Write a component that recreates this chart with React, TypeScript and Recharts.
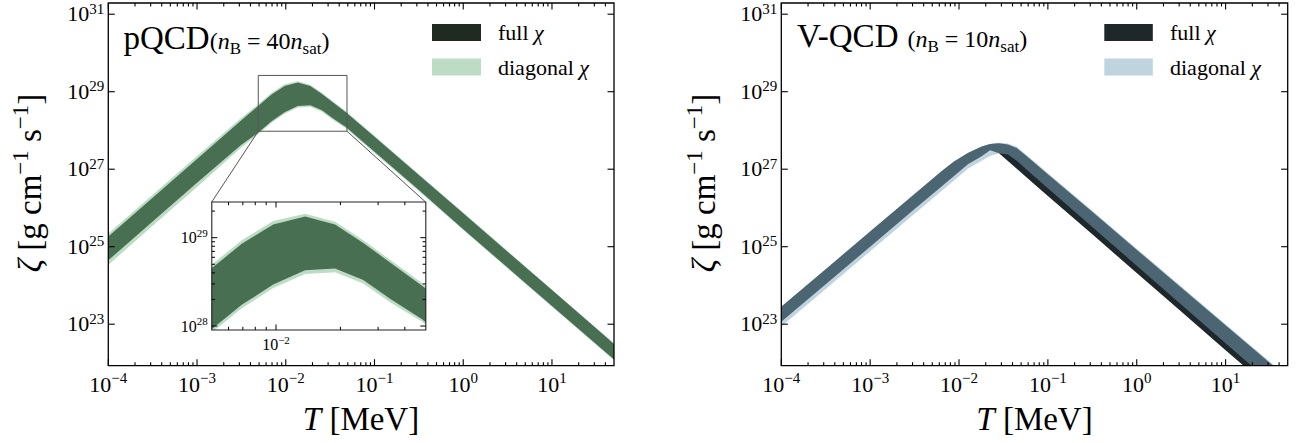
import React from 'react';
import { ComposedChart, Area, XAxis, YAxis, ReferenceArea, ReferenceLine } from 'recharts';

const FONT = '"Liberation Serif", "DejaVu Serif", serif';

// ---------- data (log10 values) ----------
// pQCD panel, log10(T / MeV)
const pqcdLogT = [-4, -3.5, -3, -2.5, -2.308, -2.16, -2.013, -1.864, -1.724, -1.592, -1.467, -1.319, -1, -0.5, 0, 0.5, 1, 1.5, 1.699];
const pqcdFullHi = [25.26, 26.26, 27.26, 28.26, 28.64, 28.93, 29.15, 29.24, 29.15, 28.94, 28.72, 28.46, 27.84, 26.85, 25.86, 24.87, 23.88, 22.89, 22.49];
const pqcdFullLo = [24.65, 25.65, 26.65, 27.63, 27.95, 28.24, 28.47, 28.63, 28.65, 28.52, 28.31, 28.08, 27.45, 26.46, 25.45, 24.46, 23.47, 22.48, 22.09];
const pqcdDiagHi = [25.34, 26.34, 27.34, 28.33, 28.68, 28.97, 29.19, 29.27, 29.18, 28.97, 28.75, 28.49, 27.86, 26.87, 25.88, 24.89, 23.89, 22.9, 22.51];
const pqcdDiagLo = [24.53, 25.54, 26.54, 27.56, 27.91, 28.2, 28.43, 28.59, 28.61, 28.48, 28.27, 28.05, 27.42, 26.43, 25.43, 24.44, 23.45, 22.46, 22.07];

// V-QCD panel, log10(T / MeV)
const vqcdLogT = [-4, -3.5, -3, -2.5, -2.2, -2.06, -1.9, -1.75, -1.65, -1.55, -1.45, -1.35, -1.2, -1, -0.5, 0, 0.5, 1, 1.5, 1.699];
const vqcdFullHi = [23.45, 24.42, 25.39, 26.36, 26.94, 27.19, 27.42, 27.58, 27.65, 27.67, 27.64, 27.55, 27.26, 26.87, 25.9, 24.92, 23.95, 22.97, 22.0, 21.61];
const vqcdFullLo = [23.06, 24.03, 25.0, 25.97, 26.55, 26.82, 27.13, 27.33, 27.49, 27.41, 27.21, 27.01, 26.71, 26.31, 25.32, 24.32, 23.33, 22.33, 21.34, 20.94];
const vqcdDiagHi = [23.45, 24.42, 25.39, 26.36, 26.94, 27.19, 27.42, 27.58, 27.65, 27.68, 27.66, 27.58, 27.29, 26.9, 25.93, 24.95, 23.98, 23.0, 22.03, 21.64];
const vqcdDiagLo = [22.94, 23.91, 24.88, 25.85, 26.43, 26.7, 27.01, 27.21, 27.34, 27.41, 27.38, 27.22, 26.91, 26.51, 25.51, 24.51, 23.51, 22.51, 21.51, 21.11];

// ticks
const X_MAJOR = [1e-4, 1e-3, 1e-2, 1e-1, 1, 10];
const MINOR_MULT = [2, 3, 4, 5, 6, 7, 8, 9];
const Y_MAJOR = [1e23, 1e25, 1e27, 1e29, 1e31];
const INSET_X_MAJOR = [1e-2];
const INSET_X_MINOR = [6e-3, 7e-3, 8e-3, 9e-3, 2e-2, 3e-2, 4e-2];
const INSET_Y_MAJOR = [1e28, 1e29];
const INSET_Y_MINOR = [2e28, 3e28, 4e28, 5e28, 6e28, 7e28, 8e28, 9e28, 2e29];

const X_DOMAIN: [number, number] = [1e-4, 50];
const Y_DOMAIN: [number, number] = [Math.pow(10, 21.929), Math.pow(10, 31.289)];
const INSET_X_DOMAIN: [number, number] = [Math.pow(10, -2.3), Math.pow(10, -1.3)];
const INSET_Y_DOMAIN: [number, number] = [Math.pow(10, 27.955), Math.pow(10, 29.404)];
// zoom box on the main panel and inset corner positions (data coords of main panel)
const ZOOM_BOX = { x1: Math.pow(10, -2.31), x2: Math.pow(10, -1.31), y1: Math.pow(10, 27.98), y2: Math.pow(10, 29.42) };
const INSET_CORNERS = { xl: Math.pow(10, -2.834), xr: Math.pow(10, -0.4245), yt: Math.pow(10, 26.154) };

const p10 = (v: number) => Math.pow(10, v);
function buildRows(logT: number[], fLo: number[], fHi: number[], dLo: number[], dHi: number[]) {
  return logT.map((t, i) => ({
    T: p10(t),
    full: [p10(fLo[i]), p10(fHi[i])],
    diag: [p10(dLo[i]), p10(dHi[i])],
  }));
}
const pqcdRows = buildRows(pqcdLogT, pqcdFullLo, pqcdFullHi, pqcdDiagLo, pqcdDiagHi);
const vqcdRows = buildRows(vqcdLogT, vqcdFullLo, vqcdFullHi, vqcdDiagLo, vqcdDiagHi);

const xTicks: number[] = [];
X_MAJOR.forEach((m) => {
  xTicks.push(m);
  MINOR_MULT.forEach((k) => {
    const v = m * k;
    if (v < X_DOMAIN[1] * 0.999) xTicks.push(v);
  });
});

const isMajor = (v: number) => {
  const e = Math.log10(v);
  return Math.abs(e - Math.round(e)) < 1e-6;
};
const expLabel = (v: number) => {
  const e = Math.round(Math.log10(v));
  return e < 0 ? '\u2212' + String(-e) : String(e);
};

type Geo = { left: number; right: number; top: number; bottom: number };

const makeXTick = (g: Geo, opt: { major: number; minor: number; fs: number; sfs: number; labelY: number; sup: number; sw: number }) =>
  (props: any) => {
    const { x, payload } = props;
    const v = payload.value;
    const maj = isMajor(v);
    const len = maj ? opt.major : opt.minor;
    return (
      <g>
        <line x1={x} x2={x} y1={g.bottom} y2={g.bottom - len} stroke="#000" strokeWidth={opt.sw} />
        <line x1={x} x2={x} y1={g.top} y2={g.top + len} stroke="#000" strokeWidth={opt.sw} />
        {maj && (
          <text x={x} y={opt.labelY} textAnchor="middle" fontFamily={FONT} fontSize={opt.fs} fill="#000">
            10<tspan fontSize={opt.sfs} dy={-opt.sup}>{expLabel(v)}</tspan>
          </text>
        )}
      </g>
    );
  };

const makeYTick = (g: Geo, opt: { major: number; minor: number; fs: number; sfs: number; dx: number; base: number; sup: number; sw: number }) =>
  (props: any) => {
    const { y, payload } = props;
    const v = payload.value;
    const maj = isMajor(v);
    const len = maj ? opt.major : opt.minor;
    return (
      <g>
        <line x1={g.left} x2={g.left + len} y1={y} y2={y} stroke="#000" strokeWidth={opt.sw} />
        <line x1={g.right} x2={g.right - len} y1={y} y2={y} stroke="#000" strokeWidth={opt.sw} />
        {maj && (
          <text x={g.left - opt.dx} y={y + opt.base} textAnchor="end" fontFamily={FONT} fontSize={opt.fs} fill="#000">
            10<tspan fontSize={opt.sfs} dy={-opt.sup}>{expLabel(v)}</tspan>
          </text>
        )}
      </g>
    );
  };

type PanelProps = {
  rows: any[];
  left: number;
  width: number;
  geo: Geo;
  dark: string;
  light: string;
  zoomBox?: boolean;
};

const H = 443;
const AX = 1; // thickness reserved by each axis (must be > 0 for it to draw)

function Panel({ rows, left, width, geo, dark, light, zoomBox }: PanelProps) {
  const margin = { top: geo.top, left: geo.left - AX, right: width - geo.right, bottom: H - geo.bottom - AX };
  return (
    <div style={{ position: 'absolute', left, top: 0 }}>
      <ComposedChart width={width} height={H} data={rows} margin={margin}>
        <Area dataKey="full" type="linear" stroke="none" fill={dark} fillOpacity={1} isAnimationActive={false} />
        <Area dataKey="diag" type="linear" stroke="none" fill={light} fillOpacity={0.49} isAnimationActive={false} />
        {zoomBox && (
          <ReferenceArea x1={ZOOM_BOX.x1} x2={ZOOM_BOX.x2} y1={ZOOM_BOX.y1} y2={ZOOM_BOX.y2} fill="none" stroke="#555" strokeWidth={1} ifOverflow="visible" />
        )}
        {zoomBox && (
          <ReferenceLine segment={[{ x: ZOOM_BOX.x1, y: ZOOM_BOX.y1 }, { x: INSET_CORNERS.xl, y: INSET_CORNERS.yt }]} stroke="#555" strokeWidth={1} ifOverflow="visible" />
        )}
        {zoomBox && (
          <ReferenceLine segment={[{ x: ZOOM_BOX.x2, y: ZOOM_BOX.y1 }, { x: INSET_CORNERS.xr, y: INSET_CORNERS.yt }]} stroke="#555" strokeWidth={1} ifOverflow="visible" />
        )}
        <ReferenceArea x1={X_DOMAIN[0]} x2={X_DOMAIN[1]} y1={Y_DOMAIN[0]} y2={Y_DOMAIN[1]} fill="none" stroke="#000" strokeWidth={1.3} ifOverflow="visible" />
        <XAxis
          dataKey="T"
          type="number"
          scale="log"
          domain={X_DOMAIN}
          allowDataOverflow
          ticks={xTicks}
          interval={0}
          height={AX}
          axisLine={false}
          tickLine={false}
          tick={makeXTick(geo, { major: 6.5, minor: 3.5, fs: 22, sfs: 15, labelY: 391.7, sup: 9, sw: 1.1 })}
        />
        <YAxis
          type="number"
          scale="log"
          domain={Y_DOMAIN}
          allowDataOverflow
          ticks={Y_MAJOR}
          interval={0}
          width={AX}
          axisLine={false}
          tickLine={false}
          tick={makeYTick(geo, { major: 6.5, minor: 3.5, fs: 22, sfs: 15, dx: 4, base: 7, sup: 7.5, sw: 1.1 })}
        />
      </ComposedChart>
    </div>
  );
}

// inset geometry (page pixels)
const INSET_BOX = { left: 211.8, right: 425.8, top: 202, bottom: 330 };
const INSET_POS = { left: 150, top: 180, width: 300, height: 190 };

function Inset() {
  const g: Geo = {
    left: INSET_BOX.left - INSET_POS.left,
    right: INSET_BOX.right - INSET_POS.left,
    top: INSET_BOX.top - INSET_POS.top,
    bottom: INSET_BOX.bottom - INSET_POS.top,
  };
  const margin = { top: g.top, left: g.left - AX, right: INSET_POS.width - g.right, bottom: INSET_POS.height - g.bottom - AX };
  return (
    <>
      <div
        style={{
          position: 'absolute',
          left: INSET_BOX.left,
          top: INSET_BOX.top,
          width: INSET_BOX.right - INSET_BOX.left,
          height: INSET_BOX.bottom - INSET_BOX.top,
          background: '#fff',
        }}
      />
      <div style={{ position: 'absolute', left: INSET_POS.left, top: INSET_POS.top }}>
        <ComposedChart width={INSET_POS.width} height={INSET_POS.height} data={pqcdRows} margin={margin}>
          <Area dataKey="full" type="linear" stroke="none" fill="#1f2a20" fillOpacity={1} isAnimationActive={false} />
          <Area dataKey="diag" type="linear" stroke="none" fill="#77b887" fillOpacity={0.49} isAnimationActive={false} />
          <ReferenceArea x1={INSET_X_DOMAIN[0]} x2={INSET_X_DOMAIN[1]} y1={INSET_Y_DOMAIN[0]} y2={INSET_Y_DOMAIN[1]} fill="none" stroke="#222" strokeWidth={1.1} ifOverflow="visible" />
          <XAxis
            dataKey="T"
            type="number"
            scale="log"
            domain={INSET_X_DOMAIN}
            allowDataOverflow
            ticks={[...INSET_X_MAJOR, ...INSET_X_MINOR]}
            interval={0}
            height={AX}
            axisLine={false}
            tickLine={false}
            tick={makeXTick(g, { major: 5.5, minor: 3.2, fs: 16, sfs: 11, labelY: g.bottom + 20, sup: 6.5, sw: 1 })}
          />
          <YAxis
            type="number"
            scale="log"
            domain={INSET_Y_DOMAIN}
            allowDataOverflow
            ticks={[...INSET_Y_MAJOR, ...INSET_Y_MINOR]}
            interval={0}
            width={AX}
            axisLine={false}
            tickLine={false}
            tick={makeYTick(g, { major: 5.5, minor: 3.2, fs: 16, sfs: 11, dx: 4, base: 5.5, sup: 6.5, sw: 1 })}
          />
        </ComposedChart>
      </div>
    </>
  );
}

function Texts() {
  const sub = { fontSize: 17 };
  return (
    <svg width={1314} height={443} style={{ position: 'absolute', left: 0, top: 0, pointerEvents: 'none' }} fontFamily={FONT}>
      {/* left title */}
      <text x={123.5} y={48.5} fontSize={33} fill="#000">
        pQCD
        <tspan fontSize={24}>
          (<tspan fontStyle="italic">n</tspan>
          <tspan {...sub} dy={5}>B</tspan>
          <tspan dy={-5} dx={6}>=</tspan>
          <tspan dx={6}>40</tspan>
          <tspan fontStyle="italic">n</tspan>
          <tspan {...sub} dy={5}>sat</tspan>
          <tspan dy={-5}>)</tspan>
        </tspan>
      </text>
      {/* right title */}
      <text x={797} y={47} fontSize={33} fill="#000">
        V-QCD
        <tspan fontSize={24} dx={9}>
          (<tspan fontStyle="italic">n</tspan>
          <tspan {...sub} dy={5}>B</tspan>
          <tspan dy={-5} dx={6}>=</tspan>
          <tspan dx={6}>10</tspan>
          <tspan fontStyle="italic">n</tspan>
          <tspan {...sub} dy={5}>sat</tspan>
          <tspan dy={-5}>)</tspan>
        </tspan>
      </text>

      {/* legends */}
      <rect x={432} y={24} width={49} height={17} fill="#1f2a20" />
      <rect x={432} y={58.5} width={49} height={17} fill="#77b887" fillOpacity={0.49} />
      <text x={498} y={40} fontSize={22}>full <tspan fontStyle="italic">χ</tspan></text>
      <text x={498} y={75} fontSize={22}>diagonal <tspan fontStyle="italic">χ</tspan></text>

      <rect x={1104.3} y={24} width={48.5} height={17} fill="#1e272a" />
      <rect x={1104.3} y={58.5} width={48.5} height={17} fill="#7da8bd" fillOpacity={0.49} />
      <text x={1170} y={40} fontSize={22}>full <tspan fontStyle="italic">χ</tspan></text>
      <text x={1170} y={75} fontSize={22}>diagonal <tspan fontStyle="italic">χ</tspan></text>

      {/* axis labels */}
      <text x={361} y={430} textAnchor="middle" fontSize={33}>
        <tspan fontStyle="italic">T</tspan> [MeV]
      </text>
      <text x={1034.5} y={430} textAnchor="middle" fontSize={33}>
        <tspan fontStyle="italic">T</tspan> [MeV]
      </text>
      {[41, 715].map((bx) => (
        <text key={bx} transform={`translate(${bx},183) rotate(-90)`} textAnchor="middle" fontSize={33}>
          <tspan fontStyle="italic">ζ</tspan> [g cm<tspan fontSize={23} dy={-13}>−1</tspan>
          <tspan dy={13}> s</tspan>
          <tspan fontSize={23} dy={-13}>−1</tspan>
          <tspan dy={13}>]</tspan>
        </text>
      ))}
    </svg>
  );
}

export default function App() {
  return (
    <div style={{ position: 'absolute', left: 0, top: 0, width: 1314, height: 443, background: '#fff', overflow: 'hidden' }}>
      <Panel rows={pqcdRows} left={0} width={650} geo={{ left: 108.3, right: 614, top: 3, bottom: 365.7 }} dark="#1f2a20" light="#77b887" zoomBox />
      <Inset />
      <Panel rows={vqcdRows} left={650} width={664} geo={{ left: 131.3, right: 637.7, top: 3, bottom: 365.7 }} dark="#1e272a" light="#7da8bd" />
      <Texts />
    </div>
  );
}
